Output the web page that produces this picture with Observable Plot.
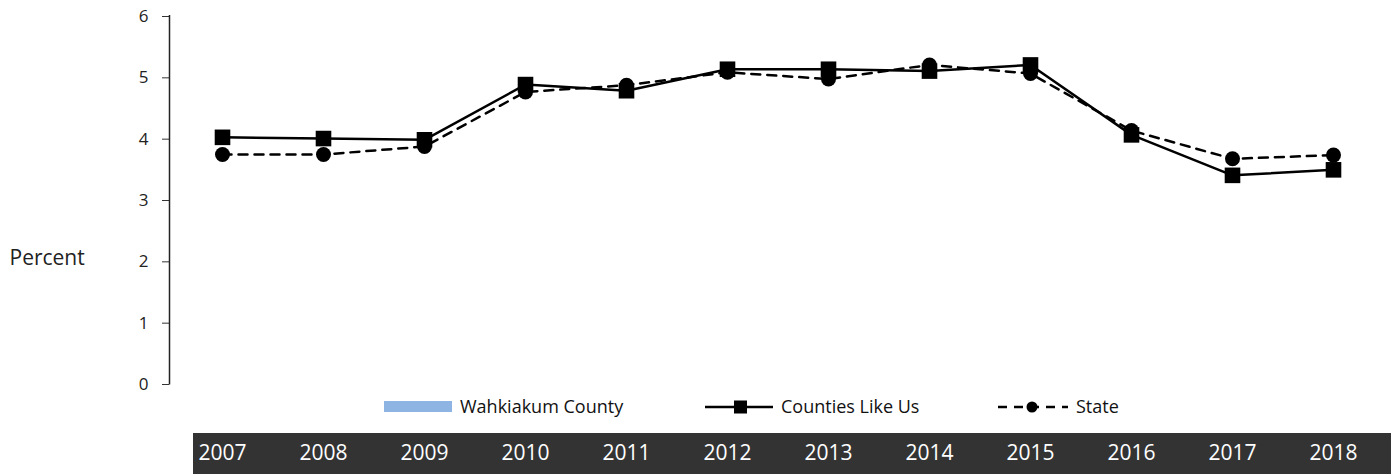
<!DOCTYPE html>
<html>
<head>
<meta charset="utf-8">
<script src="https://cdn.jsdelivr.net/npm/d3@7"></script>
<script src="https://cdn.jsdelivr.net/npm/@observablehq/plot@0.6"></script>
<style>
  html, body { margin: 0; padding: 0; background: #fff; }
  #chart { width: 1396px; height: 474px; overflow: hidden; }
  svg { font-family: "Open Sans", sans-serif; }
</style>
</head>
<body>
<div id="chart"></div>
<script>
const years = [2007, 2008, 2009, 2010, 2011, 2012, 2013, 2014, 2015, 2016, 2017, 2018];
const countiesLikeUs = [4.03, 4.01, 3.99, 4.89, 4.79, 5.14, 5.14, 5.11, 5.21, 4.07, 3.41, 3.50];
const state = [3.75, 3.75, 3.88, 4.77, 4.88, 5.09, 4.98, 5.21, 5.07, 4.14, 3.68, 3.74];
const yTicks = [0, 1, 2, 3, 4, 5, 6];
const seriesNames = ["Wahkiakum County", "Counties Like Us", "State"];
const yLabel = "Percent";

const countiesData = years.map((y, i) => ({year: String(y), value: countiesLikeUs[i]}));
const stateData = years.map((y, i) => ({year: String(y), value: state[i]}));

const W = 1396, H = 474;
const plot = Plot.plot({
  width: W,
  height: H,
  marginTop: 16,
  marginBottom: 90,
  marginLeft: 169,
  marginRight: 10,
  style: {fontFamily: "Open Sans, sans-serif", background: "#fff", overflow: "visible"},
  x: {type: "point", domain: years.map(String), padding: 0.5},
  y: {domain: [0, 6]},
  marks: [
    Plot.axisY({ticks: yTicks, tickFormat: d3.format("d"), tickSize: 7, tickPadding: 14, fontSize: 17, label: null, color: "#222", stroke: "#333"}),
    Plot.axisX({tickSize: 0, tickPadding: 61, fontSize: 21, label: null, fill: "#fff"}),
    Plot.text([yLabel], {frameAnchor: "left", dx: -160, dy: 58, textAnchor: "start", fontSize: 21, fill: "#222"}),
    Plot.line(stateData, {x: "year", y: "value", stroke: "#000", strokeWidth: 2.5, strokeDasharray: "9,7"}),
    Plot.line(countiesData, {x: "year", y: "value", stroke: "#000", strokeWidth: 2.5}),
    Plot.dot(stateData, {x: "year", y: "value", symbol: "circle", r: 7.5, fill: "#000"}),
    Plot.dot(countiesData, {x: "year", y: "value", symbol: "square", r: 8.8, fill: "#000"})
  ]
});
document.getElementById("chart").appendChild(plot);

const svg = d3.select(plot);
// dark band behind year labels
svg.insert("rect", ":first-child")
  .attr("x", 193).attr("y", 433).attr("width", 1198).attr("height", 41)
  .attr("fill", "#333333");
svg.insert("rect", ":first-child")
  .attr("x", 0).attr("y", 0).attr("width", W).attr("height", H).attr("fill", "#fff");
// y axis line
svg.append("line")
  .attr("x1", 169.5).attr("x2", 169.5).attr("y1", 15).attr("y2", 384.5)
  .attr("stroke", "#222").attr("stroke-width", 1.5);

// legend
const lg = svg.append("g").attr("font-size", 18).attr("fill", "#111").attr("text-anchor", "start");
const ly = 407;
lg.append("rect").attr("x", 384).attr("y", 401).attr("width", 68).attr("height", 11).attr("fill", "#8DB4E2");
lg.append("text").attr("x", 460).attr("y", ly).attr("dy", "0.35em").text(seriesNames[0]);
lg.append("line").attr("x1", 705).attr("x2", 773).attr("y1", ly).attr("y2", ly).attr("stroke", "#000").attr("stroke-width", 2.5);
lg.append("rect").attr("x", 734).attr("y", ly - 6.5).attr("width", 13).attr("height", 13).attr("fill", "#000");
lg.append("text").attr("x", 781).attr("y", ly).attr("dy", "0.35em").text(seriesNames[1]);
lg.append("line").attr("x1", 998).attr("x2", 1068).attr("y1", ly).attr("y2", ly).attr("stroke", "#000").attr("stroke-width", 2.5).attr("stroke-dasharray", "9,7");
lg.append("circle").attr("cx", 1032).attr("cy", ly).attr("r", 5.5).attr("fill", "#000");
lg.append("text").attr("x", 1076).attr("y", ly).attr("dy", "0.35em").text(seriesNames[2]);
</script>
</body>
</html>
